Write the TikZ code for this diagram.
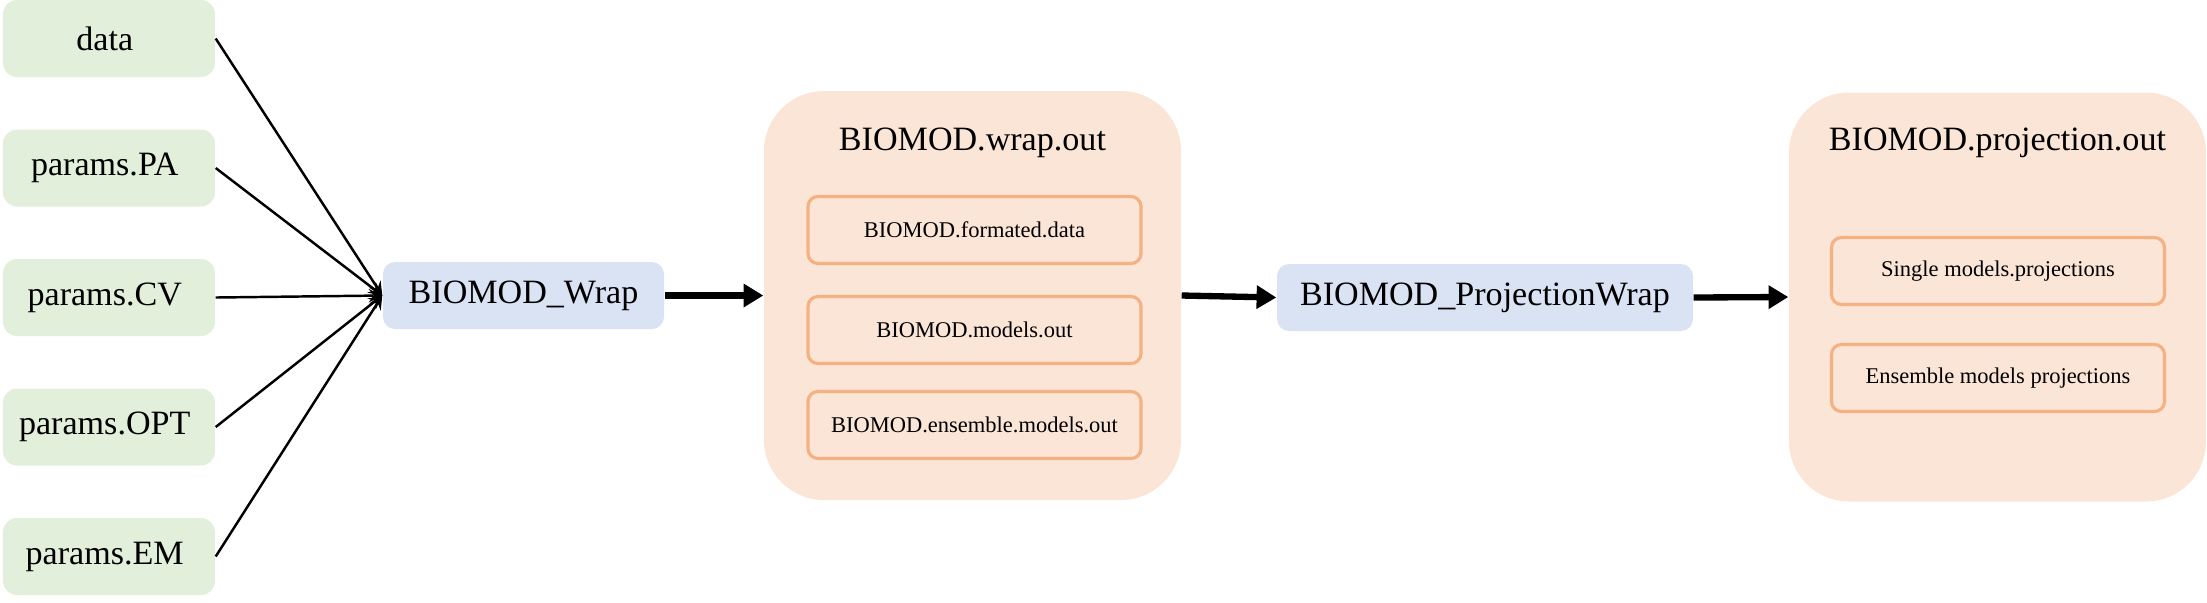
\documentclass[tikz,border=0pt]{standalone}
\usepackage{fontspec}
\setmainfont{Liberation Serif}
\usetikzlibrary{arrows.meta, matrix, positioning}
\definecolor{mygreen}{RGB}{226,239,218}
\definecolor{myblue}{RGB}{218,227,243}
\definecolor{mypeach}{RGB}{251,229,214}
\definecolor{myorange}{RGB}{244,177,131}
\tikzset{>=stealth, font=\fontsize{9.7}{11.6}\selectfont}

\begin{document}
\begin{tikzpicture}[
inputs/.style={
  matrix of nodes,
  inner sep=0pt,
  row sep=0.525cm,
  nodes={
    fill=mygreen,
    rounded corners=0.14cm,
    minimum width=2.12cm,
    minimum height=0.77cm,
    align=center
  }
  },
  func/.style={
    fill=myblue,
    rounded corners=0.12cm,
    minimum width=#1,
    minimum height=0.67cm
  },
  outbox/.style={
    fill=mypeach,
    rounded corners=0.6cm,
    minimum width=4.17cm,
    minimum height=4.09cm
  },
  part/.style={
    draw=myorange,
    line width=0.9pt,
    rounded corners=0.1cm,
    minimum width=3.33cm,
    minimum height=0.67cm,
    font=\fontsize{6.4}{7.7}\selectfont
  },
  arr/.style={
    line width=1.8pt,
    -{Triangle[length=5.6pt,width=6.4pt]}
  }
]
\useasboundingbox (0,0) rectangle (22.07,-6.02);

%the inputs
\matrix[inputs] (In) at (1.09,-2.975)
{
data \\
params.PA \\
params.CV \\
params.OPT \\
params.EM \\
};

%the functions
\node[func=2.81cm] (Wrap) at (5.235,-2.955) {BIOMOD\_Wrap};
\node[func=4.16cm] (ProjWrap) at (14.85,-2.975) {BIOMOD\_ProjectionWrap};

%the outputs
\node[outbox] (WrapOut) at (9.725,-2.955) {};
\node (WrapOutTitle) at (9.725,-1.43) {BIOMOD.wrap.out};
\node[part] (Formated) at (9.745,-2.30) {BIOMOD.formated.data};
\node[part] (Models) at (9.745,-3.30) {BIOMOD.models.out};
\node[part] (Ensemble) at (9.745,-4.25) {BIOMOD.ensemble.models.out};

\node[outbox] (ProjOut) at (19.975,-2.97) {};
\node (ProjOutTitle) at (19.975,-1.43) {BIOMOD.projection.out};
\node[part] (Single) at (19.98,-2.71) {Single models.projections};
\node[part] (EnsProj) at (19.98,-3.78) {Ensemble models projections};

%the connections
\foreach \i in {1,...,5}
  \draw[->, line width=0.7pt] (In-\i-1.east) -- (Wrap.west);

\draw[arr] (Wrap.east) -- (WrapOut.west);
\draw[arr] (WrapOut.east) -- (ProjWrap.west);
\draw[arr] (ProjWrap.east) -- (ProjOut.west);

\end{tikzpicture}
\end{document}
